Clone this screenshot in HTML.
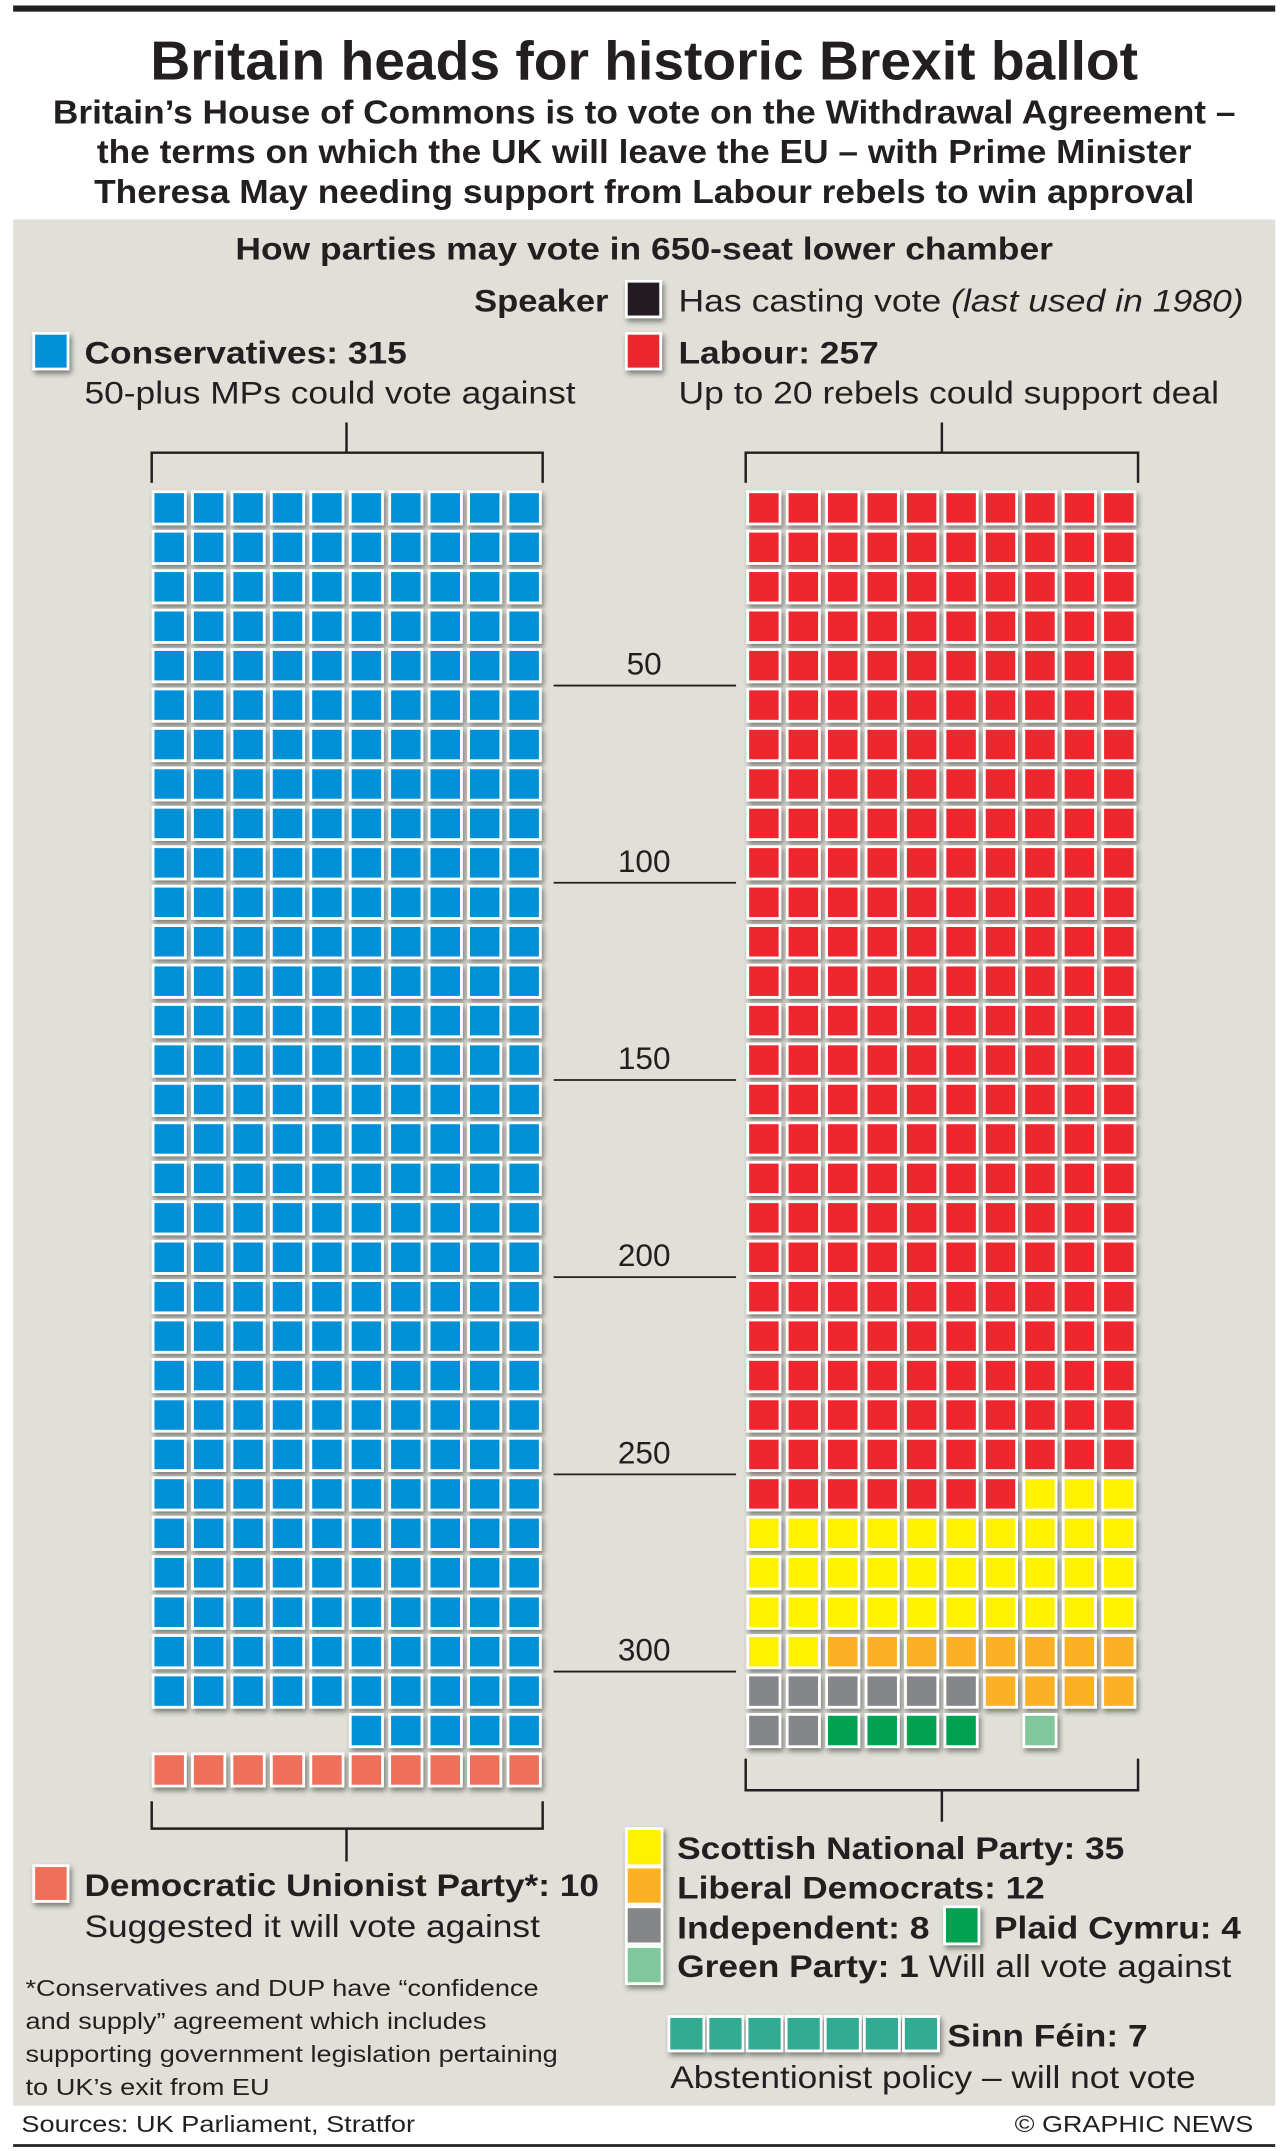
<!DOCTYPE html>
<html><head><meta charset="utf-8">
<style>
html,body{margin:0;padding:0;background:#fff}
svg{display:block}
text{font-family:"Liberation Sans",sans-serif;fill:#231f20}
.b{font-weight:bold}
</style></head>
<body>
<svg id="chart" width="1287" height="2151" viewBox="0 0 937 1568" xmlns="http://www.w3.org/2000/svg">
<defs>
<filter id="sh" x="-30%" y="-30%" width="180%" height="180%">
<feDropShadow dx="1.5" dy="2.5" stdDeviation="2" flood-color="#000" flood-opacity="0.45"/>
</filter>
</defs>
<rect x="0" y="0" width="937" height="1568" fill="#fff"/>
<rect x="9" y="4" width="920" height="4.5" fill="#231f20"/>
<text class="b" x="469" y="58" font-size="40" text-anchor="middle" textLength="720" lengthAdjust="spacingAndGlyphs">Britain heads for historic Brexit ballot</text>
<g class="b" font-size="24">
<text class="b" x="469" y="90" text-anchor="middle" textLength="862" lengthAdjust="spacingAndGlyphs">Britain’s House of Commons is to vote on the Withdrawal Agreement –</text>
<text class="b" x="469" y="119" text-anchor="middle" textLength="798" lengthAdjust="spacingAndGlyphs">the terms on which the UK will leave the EU – with Prime Minister</text>
<text class="b" x="469" y="148" text-anchor="middle" textLength="802" lengthAdjust="spacingAndGlyphs">Theresa May needing support from Labour rebels to win approval</text>
</g>
<rect x="9" y="160" width="920" height="1375" fill="#e0e0d8"/>
<text class="b" x="469" y="189" font-size="23" text-anchor="middle" textLength="596" lengthAdjust="spacingAndGlyphs">How parties may vote in 650-seat lower chamber</text>

<g>
<text class="b" x="443" y="227" font-size="23" text-anchor="end" textLength="98" lengthAdjust="spacingAndGlyphs">Speaker</text>
<rect x="456" y="205" width="25" height="26" fill="#231f20" stroke="#fff" stroke-width="2" filter="url(#sh)"/>
<text x="494" y="227" font-size="23" textLength="412" lengthAdjust="spacingAndGlyphs">Has casting vote <tspan font-style="italic">(last used in 1980)</tspan></text>
</g>
<g>
<rect x="24" y="243" width="25" height="26" fill="#0090d8" stroke="#fff" stroke-width="2" filter="url(#sh)"/>
<text class="b" x="61" y="265" font-size="23" textLength="235" lengthAdjust="spacingAndGlyphs">Conservatives: 315</text>
<text x="61" y="294" font-size="23" textLength="358" lengthAdjust="spacingAndGlyphs">50-plus MPs could vote against</text>
</g>
<g>
<rect x="456" y="243" width="25" height="26" fill="#ee262e" stroke="#fff" stroke-width="2" filter="url(#sh)"/>
<text class="b" x="494" y="265" font-size="23" textLength="146" lengthAdjust="spacingAndGlyphs">Labour: 257</text>
<text x="494" y="294" font-size="23" textLength="394" lengthAdjust="spacingAndGlyphs">Up to 20 rebels could support deal</text>
</g>

<g id="brackets" fill="none" stroke="#231f20" stroke-width="1.8">
<path d="M110 352V330H395V352M252 330V308"/>
<path d="M543 352V330H829V352M686 330V308"/>
<path d="M110 1313V1333H395V1313M252 1333V1357"/>
<path d="M543 1282V1305H829V1282M686 1305V1328"/>
</g>
<g id="ticks"></g>
<g id="grid"></g>

<g>
<rect x="24" y="1360" width="25" height="26" fill="#ef6f5a" stroke="#fff" stroke-width="2" filter="url(#sh)"/>
<text class="b" x="61" y="1382" font-size="23" textLength="375" lengthAdjust="spacingAndGlyphs">Democratic Unionist Party*: 10</text>
<text x="61" y="1412" font-size="23" textLength="332" lengthAdjust="spacingAndGlyphs">Suggested it will vote against</text>
</g>
<g font-size="17">
<text x="18" y="1455" textLength="374" lengthAdjust="spacingAndGlyphs">*Conservatives and DUP have “confidence</text>
<text x="18" y="1479" textLength="336" lengthAdjust="spacingAndGlyphs">and supply” agreement which includes</text>
<text x="18" y="1503" textLength="388" lengthAdjust="spacingAndGlyphs">supporting government legislation pertaining</text>
<text x="18" y="1527" textLength="178" lengthAdjust="spacingAndGlyphs">to UK’s exit from EU</text>
</g>
<g font-size="23">
<rect x="456" y="1333" width="26" height="27" fill="#fff200" stroke="#fff" stroke-width="2" filter="url(#sh)"/>
<text class="b" x="493" y="1355" textLength="326" lengthAdjust="spacingAndGlyphs">Scottish National Party: 35</text>
<rect x="456" y="1361" width="26" height="27" fill="#fbb025" stroke="#fff" stroke-width="2" filter="url(#sh)"/>
<text class="b" x="493" y="1384" textLength="268" lengthAdjust="spacingAndGlyphs">Liberal Democrats: 12</text>
<rect x="456" y="1390" width="26" height="27" fill="#858688" stroke="#fff" stroke-width="2" filter="url(#sh)"/>
<text class="b" x="493" y="1413" textLength="184" lengthAdjust="spacingAndGlyphs">Independent: 8</text>
<rect x="688" y="1390" width="25" height="27" fill="#00a14f" stroke="#fff" stroke-width="2" filter="url(#sh)"/>
<text class="b" x="724" y="1413" textLength="180" lengthAdjust="spacingAndGlyphs">Plaid Cymru: 4</text>
<rect x="456" y="1419" width="26" height="27" fill="#80c79b" stroke="#fff" stroke-width="2" filter="url(#sh)"/>
<text x="493" y="1441" textLength="404" lengthAdjust="spacingAndGlyphs"><tspan class="b">Green Party: 1</tspan> Will all vote against</text>
</g>
<g id="sinnfein">
<text class="b" x="690" y="1492" font-size="23" textLength="146" lengthAdjust="spacingAndGlyphs">Sinn Féin: 7</text>
<text x="488" y="1522" font-size="23" textLength="383" lengthAdjust="spacingAndGlyphs">Abstentionist policy – will not vote</text>
</g>
<text x="15" y="1554" font-size="17" textLength="287" lengthAdjust="spacingAndGlyphs">Sources: UK Parliament, Stratfor</text>
<text x="913" y="1554" font-size="17" text-anchor="end" textLength="174" lengthAdjust="spacingAndGlyphs">© GRAPHIC NEWS</text>
<rect x="9" y="1563" width="920" height="2" fill="#231f20"/>
</svg>
<script>
const leftParties = ["Conservatives", "DUP"];
const leftSeats = [315, 10];
const rightParties = ["Labour", "SNP", "Liberal Democrats", "Independent", "Plaid Cymru", "Green Party"];
const rightSeats = [257, 35, 12, 8, 4, 1];
const sinnFeinSeats = [7];
const tickValues = [50, 100, 150, 200, 250, 300];
const tickLabels = ["50", "100", "150", "200", "250", "300"];

const COLORS = {"Conservatives":"#0090d8","DUP":"#ef6f5a","Labour":"#ee262e","SNP":"#fff200","Liberal Democrats":"#fbb025","Independent":"#858688","Plaid Cymru":"#00a14f","Green Party":"#80c79b","Sinn Fein":"#33ab93"};
const NS = "http://www.w3.org/2000/svg";
const PITCH = 28.75, SIZE = 25.5, TOP = 357.5, COLS = 10;
const LEFTX = 110, RIGHTX = 543.5;
function colX(base, c){ return base + c * PITCH; }
function rowY(r){ return TOP + r * PITCH; }
function seatRow(n){ return n / COLS; }
const grid = document.getElementById('grid');
function seat(x, y, color, name){
  const r = document.createElementNS(NS, 'rect');
  r.setAttribute('x', x + 1); r.setAttribute('y', y + 1);
  r.setAttribute('width', SIZE - 2); r.setAttribute('height', SIZE - 2);
  r.setAttribute('fill', color); r.setAttribute('stroke', '#fff'); r.setAttribute('stroke-width', 2);
  r.setAttribute('filter', 'url(#sh)');
  
  
  grid.appendChild(r);
}
// Left: Conservatives fill from top; last partial row right-aligned; DUP on next row
(function(){
  const con = leftSeats[0];
  const full = Math.floor(con / COLS), rem = con % COLS;
  for (let i = 0; i < full * COLS; i++) seat(colX(LEFTX, i % COLS), rowY(Math.floor(i / COLS)), COLORS[leftParties[0]], 'seat-conservatives');
  for (let j = 0; j < rem; j++) seat(colX(LEFTX, COLS - rem + j), rowY(full), COLORS[leftParties[0]], 'seat-conservatives');
  const dupRow = full + (rem ? 1 : 0);
  for (let k = 0; k < leftSeats[1]; k++) seat(colX(LEFTX, k % COLS), rowY(dupRow + Math.floor(k / COLS)), COLORS[leftParties[1]], 'seat-dup');
})();
// Right: sequential fill with occupancy; Lib Dem overflow right-aligned on next row; Green after a one-seat gap
(function(){
  const occ = {};
  let idx = 0;
  function place(i, p){
    occ[i] = true;
    seat(colX(RIGHTX, i % COLS), rowY(Math.floor(i / COLS)), COLORS[rightParties[p]], 'seat-' + rightParties[p].toLowerCase().replace(/ /g, '-'));
  }
  function next(){ while (occ[idx]) idx++; return idx++; }
  for (let p = 0; p < rightParties.length; p++) {
    const name = rightParties[p];
    let n = rightSeats[p];
    if (name === 'Liberal Democrats') {
      while (occ[idx]) idx++;
      const rowEnd = (Math.floor(idx / COLS) + 1) * COLS;
      while (n > 0 && idx < rowEnd) { place(next(), p); n--; }
      let k = 0;
      while (n > 0) { const row = Math.floor(idx / COLS) + Math.floor(k / COLS); place(row * COLS + COLS - 1 - (k % COLS), p); k++; n--; }
      continue;
    }
    if (name === 'Green Party') { next(); }
    while (n > 0) { place(next(), p); n--; }
  }
})();
// Ticks
const ticks = document.getElementById('ticks');
tickValues.forEach((v, i) => {
  const y = rowY(seatRow(v)) - 1.5;
  const l = document.createElementNS(NS, 'line');
  l.setAttribute('x1', 403); l.setAttribute('x2', 536); l.setAttribute('y1', y); l.setAttribute('y2', y);
  l.setAttribute('stroke', '#231f20'); l.setAttribute('stroke-width', 1.3);
  
  
  ticks.appendChild(l);
  const t = document.createElementNS(NS, 'text');
  t.setAttribute('x', 469); t.setAttribute('y', y - 8); t.setAttribute('font-size', 23);
  t.setAttribute('text-anchor', 'middle');
  t.textContent = tickLabels[i];
  
  
  ticks.appendChild(t);
});
// Sinn Fein row
(function(){
  const g = document.getElementById('sinnfein');
  for (let i = 0; i < sinnFeinSeats[0]; i++) {
    const r = document.createElementNS(NS, 'rect');
    r.setAttribute('x', 487 + i * 28.5); r.setAttribute('y', 1470);
    r.setAttribute('width', 25.5); r.setAttribute('height', 25);
    r.setAttribute('fill', COLORS['Sinn Fein']); r.setAttribute('stroke', '#fff'); r.setAttribute('stroke-width', 2);
    r.setAttribute('filter', 'url(#sh)');
    
    
    g.appendChild(r);
  }
})();
</script>
</body></html>
